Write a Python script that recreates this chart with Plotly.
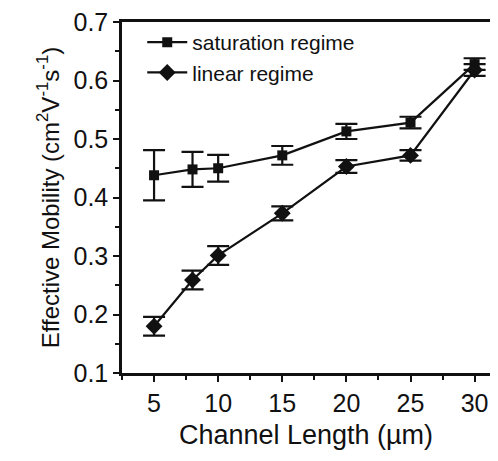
import plotly.graph_objects as go

channel_length = [5, 8, 10, 15, 20, 25, 30]
sat_mobility = [0.438, 0.448, 0.450, 0.472, 0.513, 0.528, 0.628]
sat_error = [0.043, 0.030, 0.023, 0.016, 0.013, 0.010, 0.010]
lin_mobility = [0.180, 0.259, 0.301, 0.373, 0.453, 0.472, 0.618]
lin_error = [0.016, 0.016, 0.016, 0.012, 0.011, 0.009, 0.010]

x_ticks = [5, 10, 15, 20, 25, 30]
y_ticks = [0.1, 0.2, 0.3, 0.4, 0.5, 0.6, 0.7]

FONT = "Liberation Sans, Arial, sans-serif"
INK = "#111111"

fig = go.Figure()
fig.add_trace(go.Scatter(
    x=channel_length, y=sat_mobility, name="saturation regime",
    mode="lines+markers",
    line=dict(color=INK, width=2.2),
    marker=dict(symbol="square", size=10, color=INK),
    error_y=dict(type="data", array=sat_error, visible=True, color=INK, thickness=2.2, width=11),
))
fig.add_trace(go.Scatter(
    x=channel_length, y=lin_mobility, name="linear regime",
    mode="lines+markers",
    line=dict(color=INK, width=2.2),
    marker=dict(symbol="diamond", size=13, color=INK),
    error_y=dict(type="data", array=lin_error, visible=True, color=INK, thickness=2.2, width=11),
))

fig.update_layout(
    width=498, height=461,
    margin=dict(l=122, r=8, t=15, b=88),
    paper_bgcolor="white", plot_bgcolor="white",
    font=dict(family=FONT, color=INK, size=24),
    showlegend=True,
    legend=dict(x=0.055, y=1.0, xanchor="left", yanchor="top",
                bgcolor="rgba(0,0,0,0)", font=dict(size=21, family=FONT, color=INK),
                tracegroupgap=0, itemwidth=40),
    xaxis=dict(
        range=[2.5, 31.2], tickmode="array", tickvals=x_ticks,
        ticks="outside", ticklen=6, tickwidth=2, tickcolor=INK,
        showline=True, linewidth=2.5, linecolor=INK, mirror=True,
        showgrid=False, zeroline=False,
        minor=dict(dtick=2.5, ticks="outside", ticklen=4, tickwidth=1.5, tickcolor=INK, tick0=0),
        tickfont=dict(size=25),
        title=dict(text="Channel Length (µm)", font=dict(size=27), standoff=10),
    ),
    yaxis=dict(
        range=[0.1, 0.7], tickmode="array", tickvals=y_ticks, tickformat=".1f",
        ticks="outside", ticklen=6, tickwidth=2, tickcolor=INK,
        showline=True, linewidth=2.5, linecolor=INK, mirror=False,
        showgrid=False, zeroline=False,
        minor=dict(dtick=0.05, ticks="outside", ticklen=4, tickwidth=1.5, tickcolor=INK, tick0=0.1),
        tickfont=dict(size=25),
        title=dict(text="Effective Mobility (cm<sup>2</sup>V<sup>-1</sup>s<sup>-1</sup>)",
                   font=dict(size=24), standoff=8),
    ),
)

fig.write_html("out.html")
